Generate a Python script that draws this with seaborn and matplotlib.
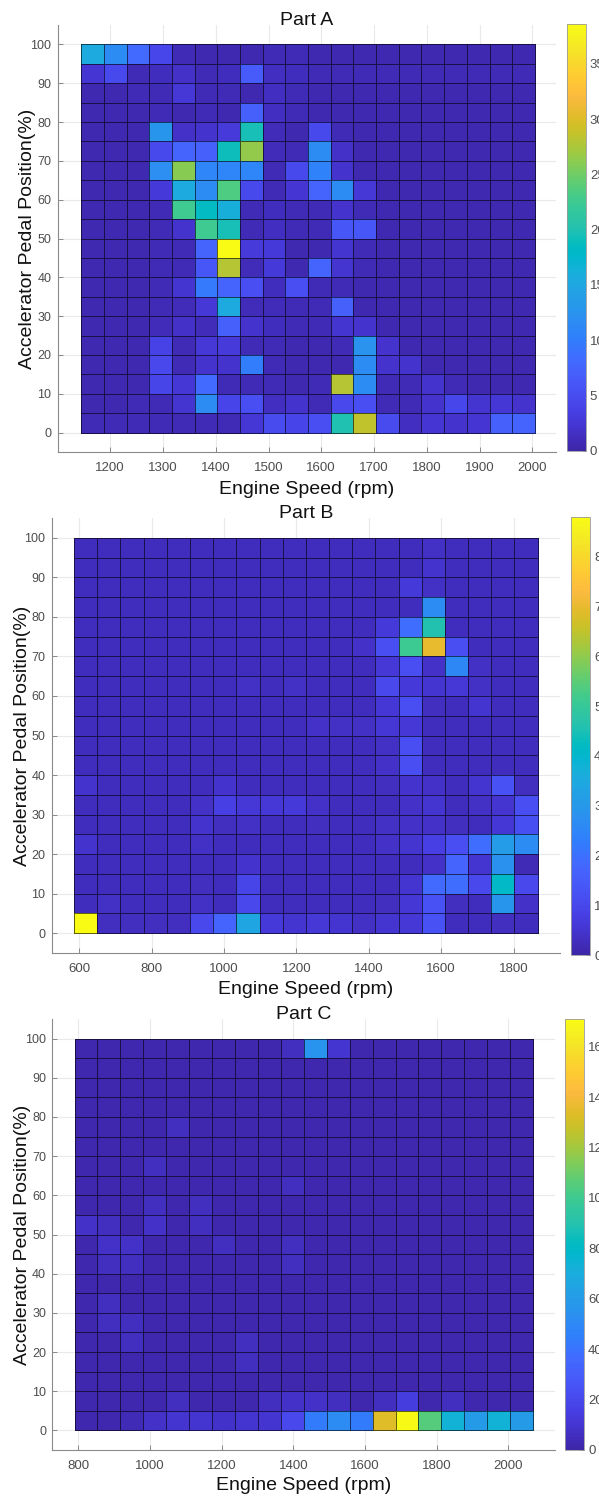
import numpy as np
import pandas as pd
import matplotlib
matplotlib.use("Agg")
import matplotlib.pyplot as plt
import seaborn as sns
from matplotlib.colors import LinearSegmentedColormap

sns.set_theme(style="white")
plt.rcParams['font.family'] = ['Liberation Sans', 'DejaVu Sans']

# ---------------------------------------------------------------------------
# Data: time share per (pedal position, engine speed) bin.
# Rows run from the 95-100 % pedal bin (top) down to the 0-5 % bin (bottom),
# columns run over 20 engine-speed bins from low to high rpm.
# ---------------------------------------------------------------------------
pedal_edges = list(range(0, 105, 5))

speed_start_a, speed_width_a = 1145, 43
speed_start_b, speed_width_b = 586, 64
speed_start_c, speed_width_c = 789, 64

part_a = [
    [15.5, 11.5, 8.0, 4.3, 0.8, 0.6, 0.6, 0.6, 0.8, 0.8, 0.6, 0.6, 0.6, 0.6, 0.6, 0.6, 0.6, 0.6, 0.6, 0.6],
    [2.4, 4.6, 0.8, 1.2, 1.8, 0.8, 1.2, 6.6, 1.4, 1.2, 0.8, 0.8, 0.8, 0.8, 0.8, 0.8, 0.8, 0.8, 0.8, 0.8],
    [0.6, 0.6, 0.8, 0.8, 2.6, 0.8, 0.8, 0.6, 1.4, 0.8, 0.6, 0.6, 0.6, 0.6, 0.6, 0.6, 0.6, 0.6, 0.6, 0.6],
    [0.6, 0.6, 0.6, 0.8, 0.6, 0.8, 0.6, 7.0, 1.4, 0.8, 0.6, 0.6, 0.6, 0.6, 0.6, 0.6, 0.6, 0.6, 0.6, 0.6],
    [0.6, 0.6, 0.6, 12.8, 1.8, 2.0, 3.0, 19.5, 1.0, 0.6, 4.6, 0.8, 0.6, 0.6, 0.6, 0.6, 0.6, 0.6, 0.6, 0.6],
    [0.6, 0.6, 0.6, 4.6, 7.5, 7.0, 19.0, 26.5, 1.0, 0.8, 11.5, 1.8, 0.6, 0.6, 0.6, 0.6, 0.6, 0.6, 0.6, 0.6],
    [0.6, 0.6, 0.6, 12.0, 26.0, 11.0, 11.0, 11.0, 0.8, 4.6, 10.5, 2.0, 0.6, 0.6, 0.6, 0.6, 0.6, 0.6, 0.6, 0.6],
    [0.6, 0.6, 0.6, 2.8, 15.5, 11.5, 23.5, 4.6, 0.8, 2.3, 7.5, 11.5, 2.6, 0.6, 0.6, 0.6, 0.6, 0.6, 0.6, 0.6],
    [0.6, 0.6, 0.6, 0.8, 22.5, 18.5, 16.0, 0.8, 1.2, 0.8, 0.8, 2.0, 0.8, 0.6, 0.6, 0.6, 0.6, 0.6, 0.6, 0.6],
    [0.6, 0.6, 0.6, 0.8, 2.0, 22.5, 19.5, 0.8, 1.4, 0.8, 0.8, 6.0, 6.0, 0.6, 0.6, 0.6, 0.6, 0.6, 0.6, 0.6],
    [0.6, 0.6, 0.6, 0.8, 0.8, 7.5, 38.6, 3.0, 2.8, 0.6, 0.6, 2.2, 0.8, 0.6, 0.6, 0.6, 0.6, 0.6, 0.6, 0.6],
    [0.6, 0.6, 0.6, 0.8, 0.8, 6.0, 28.0, 1.0, 2.8, 0.6, 7.5, 2.2, 0.8, 0.6, 0.6, 0.6, 0.6, 0.6, 0.6, 0.6],
    [0.6, 0.6, 0.6, 0.8, 2.2, 9.5, 7.5, 5.0, 1.2, 5.0, 0.8, 0.8, 0.6, 0.6, 0.6, 0.6, 0.6, 0.6, 0.6, 0.6],
    [0.6, 0.6, 0.6, 0.8, 1.0, 2.6, 15.5, 1.0, 1.0, 0.8, 0.8, 7.0, 0.6, 0.6, 0.6, 0.6, 0.6, 0.6, 0.6, 0.6],
    [0.6, 0.6, 0.6, 1.0, 1.8, 1.0, 7.0, 2.0, 1.2, 0.8, 0.8, 2.2, 2.0, 0.6, 0.6, 0.6, 0.6, 0.6, 0.6, 0.6],
    [0.6, 0.6, 0.6, 3.8, 0.8, 2.6, 3.0, 0.8, 0.8, 0.6, 0.6, 0.8, 12.5, 2.0, 0.6, 0.6, 0.6, 0.6, 0.6, 0.6],
    [0.6, 0.6, 0.6, 4.5, 0.8, 2.0, 2.0, 10.0, 0.8, 0.6, 0.6, 0.6, 11.5, 2.0, 2.0, 0.6, 0.6, 0.6, 0.6, 0.6],
    [0.6, 0.6, 0.6, 4.0, 2.5, 8.0, 0.8, 0.8, 0.8, 0.6, 0.8, 28.0, 11.5, 0.8, 0.8, 2.0, 0.8, 0.6, 0.6, 0.6],
    [0.6, 0.6, 0.8, 0.8, 2.2, 11.5, 4.2, 5.0, 1.4, 2.0, 0.8, 4.5, 5.0, 0.8, 0.8, 2.0, 4.3, 2.2, 2.5, 2.0],
    [0.8, 0.8, 0.8, 0.8, 0.8, 0.8, 0.8, 2.5, 4.7, 4.2, 5.0, 20.0, 28.5, 4.7, 1.4, 2.3, 2.1, 2.3, 7.0, 7.5],
]

part_b = [
    [0.25, 0.25, 0.25, 0.25, 0.25, 0.25, 0.25, 0.25, 0.25, 0.25, 0.25, 0.25, 0.25, 0.25, 0.25, 0.35, 0.25, 0.25, 0.25, 0.25],
    [0.25, 0.25, 0.25, 0.25, 0.25, 0.25, 0.25, 0.25, 0.25, 0.25, 0.25, 0.25, 0.25, 0.25, 0.25, 0.45, 0.25, 0.25, 0.25, 0.25],
    [0.25, 0.25, 0.25, 0.25, 0.25, 0.25, 0.25, 0.25, 0.25, 0.25, 0.25, 0.25, 0.25, 0.25, 0.65, 0.35, 0.25, 0.25, 0.25, 0.25],
    [0.25, 0.25, 0.25, 0.25, 0.25, 0.25, 0.25, 0.25, 0.25, 0.25, 0.25, 0.25, 0.25, 0.25, 0.25, 2.65, 0.25, 0.25, 0.25, 0.25],
    [0.25, 0.25, 0.25, 0.25, 0.25, 0.25, 0.25, 0.25, 0.25, 0.25, 0.25, 0.25, 0.25, 0.65, 1.95, 4.6, 0.25, 0.25, 0.25, 0.25],
    [0.25, 0.25, 0.25, 0.25, 0.25, 0.25, 0.25, 0.25, 0.25, 0.25, 0.25, 0.25, 0.4, 1.15, 5.1, 7.0, 1.15, 0.25, 0.25, 0.25],
    [0.25, 0.25, 0.25, 0.25, 0.25, 0.25, 0.25, 0.25, 0.25, 0.25, 0.25, 0.25, 0.25, 0.6, 1.15, 0.4, 2.55, 0.35, 0.25, 0.25],
    [0.25, 0.25, 0.25, 0.25, 0.25, 0.25, 0.25, 0.35, 0.25, 0.35, 0.25, 0.25, 0.25, 1.0, 0.65, 0.5, 0.6, 0.35, 0.25, 0.25],
    [0.25, 0.25, 0.25, 0.25, 0.25, 0.25, 0.25, 0.25, 0.25, 0.25, 0.25, 0.25, 0.25, 0.55, 1.15, 0.3, 0.25, 0.5, 0.25, 0.25],
    [0.25, 0.25, 0.25, 0.25, 0.25, 0.25, 0.25, 0.25, 0.25, 0.25, 0.4, 0.35, 0.35, 0.55, 0.6, 0.25, 0.25, 0.25, 0.25, 0.25],
    [0.25, 0.25, 0.25, 0.25, 0.25, 0.25, 0.25, 0.25, 0.25, 0.25, 0.25, 0.25, 0.25, 0.35, 1.15, 0.25, 0.25, 0.25, 0.25, 0.25],
    [0.25, 0.25, 0.25, 0.25, 0.25, 0.25, 0.25, 0.25, 0.25, 0.25, 0.25, 0.25, 0.25, 0.4, 1.15, 0.25, 0.25, 0.25, 0.25, 0.25],
    [0.45, 0.25, 0.25, 0.25, 0.25, 0.25, 0.45, 0.25, 0.25, 0.25, 0.25, 0.25, 0.25, 0.3, 0.45, 0.4, 0.25, 0.5, 1.25, 0.3],
    [0.25, 0.25, 0.25, 0.25, 0.25, 0.4, 0.8, 0.6, 0.6, 0.65, 0.4, 0.25, 0.25, 0.25, 0.4, 0.5, 0.25, 0.35, 0.5, 1.15],
    [0.25, 0.25, 0.25, 0.25, 0.25, 0.45, 0.3, 0.35, 0.25, 0.25, 0.3, 0.25, 0.25, 0.35, 0.4, 0.4, 0.3, 0.25, 0.55, 1.2],
    [0.45, 0.25, 0.25, 0.25, 0.25, 0.35, 0.25, 0.25, 0.25, 0.25, 0.25, 0.25, 0.25, 0.4, 0.5, 0.8, 1.15, 1.95, 3.1, 2.65],
    [0.25, 0.25, 0.25, 0.25, 0.25, 0.25, 0.25, 0.45, 0.25, 0.25, 0.25, 0.25, 0.25, 0.25, 0.25, 0.4, 1.7, 0.5, 2.8, 0.2],
    [0.25, 0.25, 0.25, 0.25, 0.25, 0.3, 0.25, 0.9, 0.25, 0.25, 0.25, 0.25, 0.25, 0.25, 0.5, 1.85, 1.95, 1.0, 4.1, 1.0],
    [0.25, 0.35, 0.25, 0.25, 0.25, 0.35, 0.25, 1.0, 0.25, 0.25, 0.25, 0.25, 0.25, 0.3, 0.55, 1.25, 0.3, 0.25, 2.9, 0.4],
    [8.8, 0.3, 0.3, 0.3, 0.3, 1.0, 1.7, 3.35, 0.65, 0.5, 0.6, 0.5, 0.35, 0.5, 0.6, 1.25, 0.25, 0.25, 0.3, 0.25],
]

part_c = [
    [2, 2, 2, 2, 2, 2, 2, 2, 2, 6, 56, 9.5, 2, 2, 2, 2, 2, 2, 2, 2],
    [2, 2, 2, 2, 2, 2, 2, 2, 2, 2, 2, 2, 2, 2, 2, 2, 2, 2, 2, 2],
    [2, 2, 2, 2, 2, 2, 2, 2, 2, 2, 2, 2, 2, 2, 2, 2, 2, 2, 2, 2],
    [2, 2, 2, 2, 2, 2, 2, 2, 2, 2, 2, 2, 2, 2, 2, 2, 2, 2, 2, 2],
    [2, 2, 2, 2, 6, 2, 2, 2, 2, 2, 2, 2, 2, 2, 2, 2, 2, 2, 2, 2],
    [2, 2, 2, 2, 2, 2, 2, 2, 2, 2, 2, 2, 2, 2, 2, 2, 2, 2, 2, 2],
    [2, 2, 2, 6, 2, 2, 2, 2, 2, 2, 2, 2, 2, 2, 2, 2, 2, 2, 2, 2],
    [2, 2, 2, 2, 2, 2, 2, 2, 2, 6, 2, 2, 2, 2, 2, 2, 2, 2, 2, 2],
    [2, 2, 2, 6, 2, 6, 2, 2, 2, 2, 2, 2, 2, 2, 2, 2, 2, 2, 2, 2],
    [8, 6, 2, 8, 2, 6, 2, 2, 2, 2, 2, 2, 2, 2, 2, 2, 2, 2, 2, 2],
    [2, 8, 8, 2, 2, 2, 6, 2, 2, 6, 2, 2, 2, 2, 2, 2, 2, 2, 2, 2],
    [2, 6, 6, 2, 2, 2, 2, 2, 2, 6, 2, 2, 2, 2, 2, 2, 2, 2, 2, 2],
    [2, 2, 2, 2, 2, 2, 2, 2, 2, 2, 2, 2, 2, 2, 2, 2, 2, 2, 2, 2],
    [2, 6, 2, 2, 2, 2, 2, 2, 2, 2, 2, 2, 2, 2, 2, 2, 2, 2, 2, 2],
    [2, 6, 6, 2, 2, 2, 2, 2, 2, 2, 2, 2, 2, 2, 2, 2, 2, 2, 2, 2],
    [2, 2, 6, 2, 2, 2, 2, 6, 2, 2, 2, 2, 2, 2, 2, 2, 2, 2, 2, 2],
    [2, 2, 2, 2, 2, 2, 2, 6, 2, 2, 2, 2, 2, 2, 2, 2, 2, 2, 2, 2],
    [2, 2, 2, 2, 2, 2, 2, 2, 2, 2, 2, 2, 2, 2, 2, 2, 2, 2, 2, 2],
    [2, 2, 2, 2, 6, 2, 2, 2, 6, 8, 8, 6, 2, 6, 14.5, 2, 6, 2, 2, 2],
    [2, 2, 4, 8, 9.5, 10, 8.5, 10, 10, 20, 44, 51, 44, 133, 170, 105, 73, 60, 73, 60],
]

vmax_a, vmax_b, vmax_c = 38.6, 8.8, 171.0

# parula-style colormap
parula_rgb = [
    (0.2422, 0.1504, 0.6603), (0.2504, 0.1650, 0.7076), (0.2578, 0.1818, 0.7511), (0.2647, 0.1978, 0.7952),
    (0.2706, 0.2147, 0.8364), (0.2751, 0.2342, 0.8710), (0.2783, 0.2559, 0.8991), (0.2803, 0.2782, 0.9221),
    (0.2813, 0.3006, 0.9414), (0.2810, 0.3228, 0.9579), (0.2795, 0.3447, 0.9717), (0.2760, 0.3667, 0.9829),
    (0.2699, 0.3892, 0.9906), (0.2602, 0.4123, 0.9952), (0.2440, 0.4358, 0.9988), (0.2206, 0.4603, 0.9973),
    (0.1963, 0.4847, 0.9892), (0.1834, 0.5074, 0.9798), (0.1786, 0.5289, 0.9682), (0.1764, 0.5499, 0.9520),
    (0.1687, 0.5703, 0.9359), (0.1540, 0.5902, 0.9218), (0.1460, 0.6091, 0.9079), (0.1380, 0.6276, 0.8973),
    (0.1248, 0.6459, 0.8883), (0.1113, 0.6635, 0.8763), (0.0952, 0.6798, 0.8598), (0.0689, 0.6948, 0.8394),
    (0.0297, 0.7082, 0.8163), (0.0036, 0.7203, 0.7917), (0.0067, 0.7312, 0.7660), (0.0433, 0.7411, 0.7394),
    (0.0964, 0.7500, 0.7120), (0.1408, 0.7584, 0.6842), (0.1717, 0.7670, 0.6554), (0.1938, 0.7758, 0.6251),
    (0.2161, 0.7843, 0.5923), (0.2470, 0.7918, 0.5567), (0.2906, 0.7973, 0.5188), (0.3406, 0.8008, 0.4789),
    (0.3909, 0.8029, 0.4354), (0.4456, 0.8024, 0.3909), (0.5044, 0.7993, 0.3480), (0.5616, 0.7942, 0.3045),
    (0.6174, 0.7876, 0.2612), (0.6720, 0.7793, 0.2227), (0.7242, 0.7698, 0.1910), (0.7738, 0.7598, 0.1646),
    (0.8203, 0.7498, 0.1535), (0.8634, 0.7406, 0.1596), (0.9035, 0.7330, 0.1774), (0.9393, 0.7288, 0.2100),
    (0.9728, 0.7298, 0.2394), (0.9956, 0.7434, 0.2371), (0.9970, 0.7659, 0.2199), (0.9952, 0.7893, 0.2028),
    (0.9892, 0.8136, 0.1885), (0.9786, 0.8386, 0.1766), (0.9676, 0.8639, 0.1643), (0.9610, 0.8890, 0.1537),
    (0.9597, 0.9135, 0.1423), (0.9628, 0.9373, 0.1265), (0.9691, 0.9606, 0.1064), (0.9769, 0.9839, 0.0805),
]
parula = LinearSegmentedColormap.from_list("parula", parula_rgb, N=256)

W, H = 599, 1496
fig = plt.figure(figsize=(W / 100, H / 100), dpi=100)


def box(left, top, right, bottom):
    """Pixel box (top-left origin) to figure fraction rect."""
    return [left / W, 1 - bottom / H, (right - left) / W, (bottom - top) / H]


TICK_COLOR = "#4d4d4d"
SPINE_COLOR = "#8a8a8a"
LABEL_SIZE = 14


def draw_panel(values, speed_start, speed_width, vmax, title, xlim, xticks,
               cbar_ticks, ax_box, cax_box, ylabel_right_px, xlabelpad):
    ax = fig.add_axes(box(*ax_box))
    cax = fig.add_axes(box(*cax_box))
    n_rows = len(values)
    n_cols = len(values[0])
    speed_edges = [speed_start + i * speed_width for i in range(n_cols + 1)]
    cols = [f"{speed_edges[i]}-{speed_edges[i + 1]}" for i in range(n_cols)]
    rows = [f"{pedal_edges[n_rows - i - 1]}-{pedal_edges[n_rows - i]}" for i in range(n_rows)]
    df = pd.DataFrame(values, index=rows, columns=cols)

    sns.heatmap(df, ax=ax, cmap=parula, vmin=0, vmax=vmax,
                linewidths=0.6, linecolor=(0, 0, 0, 0.6),
                cbar_ax=cax, xticklabels=False, yticklabels=False)

    def to_x(rpm):
        return (np.asarray(rpm, dtype=float) - speed_start) / speed_width

    def to_y(p):
        return (pedal_edges[-1] - np.asarray(p, dtype=float)) / 5.0

    ax.set_xlim(to_x(xlim[0]), to_x(xlim[1]))
    ax.set_ylim(to_y(-5), to_y(105))
    ax.set_xticks(to_x(xticks))
    ax.set_xticklabels([str(t) for t in xticks])
    yt = list(range(0, 101, 10))
    ax.set_yticks(to_y(yt))
    ax.set_yticklabels([str(t) for t in yt])

    ax.grid(True, color="#e9e9e9", linewidth=0.8)
    ax.set_axisbelow(True)
    for side in ("top", "right"):
        ax.spines[side].set_visible(False)
    for side in ("left", "bottom"):
        ax.spines[side].set_visible(True)
        ax.spines[side].set_color(SPINE_COLOR)
        ax.spines[side].set_linewidth(0.8)
    ax.tick_params(axis="both", direction="in", length=3.5, width=0.7,
                   color=SPINE_COLOR, labelcolor=TICK_COLOR,
                   bottom=True, left=True)
    ax.tick_params(axis="x", pad=7.5, labelsize=9.5)
    ax.tick_params(axis="y", pad=4.5, labelsize=9)

    ax.set_title(title, fontsize=LABEL_SIZE, color="#111111", pad=0.0)
    ax.set_xlabel("Engine Speed (rpm)", fontsize=LABEL_SIZE, color="#111111",
                  labelpad=xlabelpad)
    ax.set_ylabel("Accelerator Pedal Position(%)", fontsize=LABEL_SIZE, color="#111111")
    left_px, _, right_px, _ = ax_box
    ax.yaxis.set_label_coords((ylabel_right_px - left_px) / (right_px - left_px), 0.5)

    cbar = ax.collections[0].colorbar
    cbar.set_ticks(cbar_ticks)
    cbar.set_ticklabels([str(t) for t in cbar_ticks])
    cbar.outline.set_edgecolor("#9a9a9a")
    cbar.outline.set_linewidth(0.6)
    cax.tick_params(axis="y", direction="in", length=3, width=0.7, color="#6f6f6f",
                    labelsize=9.5, labelcolor=TICK_COLOR, right=True, pad=3)
    return ax


draw_panel(part_a, speed_start_a, speed_width_a, vmax_a, "Part A",
           (1100, 2045), list(range(1200, 2001, 100)), list(range(0, 36, 5)),
           (57.5, 25, 556, 452), (566.7, 24, 585.7, 450.7), 36.5, 4.5)

draw_panel(part_b, speed_start_b, speed_width_b, vmax_b, "Part B",
           (524, 1928), list(range(600, 1801, 200)), list(range(0, 9, 1)),
           (51.7, 518, 560, 953), (570.7, 517, 590, 955), 30.7, 4.0)

draw_panel(part_c, speed_start_c, speed_width_c, vmax_c, "Part C",
           (727, 2130), list(range(800, 2001, 200)), list(range(0, 161, 20)),
           (52.3, 1019, 555, 1450), (565, 1019, 584, 1450), 31.3, 3.0)

fig.savefig("out.png", dpi=100)
